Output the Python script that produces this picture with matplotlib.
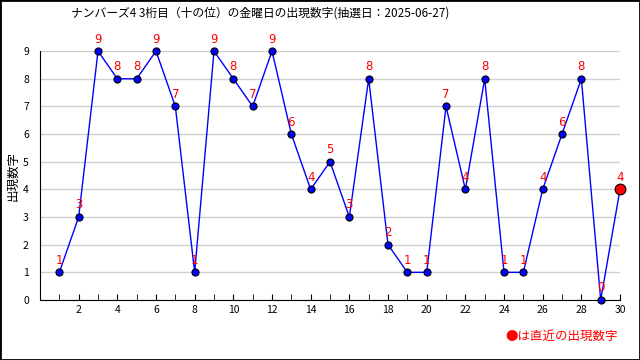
import matplotlib as M
M.use('agg')
import matplotlib.pyplot as plt
from matplotlib.patches import Rectangle

plt.rcParams['font.family'] = ['Noto Sans CJK JP', 'DejaVu Sans']

draws = list(range(1, 31))
digits = [1, 3, 9, 8, 8, 9, 7, 1, 9, 8, 7, 9, 6, 4, 5, 3, 8, 2, 1, 1,
          7, 4, 8, 1, 1, 4, 6, 8, 0, 4]
title = 'ナンバーズ4 3桁目（十の位）の金曜日の出現数字(抽選日：2025-06-27)'

fig = plt.figure(figsize=(6.4, 3.6), dpi=100)
ax = fig.add_axes([0.0625, 0.1667, 0.9063, 0.6913])

ax.set_xlim(0, 30)
ax.set_ylim(0, 9)
ax.plot(draws, digits, color='#0000ff', lw=1, zorder=3, clip_on=False)
ax.scatter(draws[:-1], digits[:-1], s=26, color='#0000ff', edgecolor='black',
           lw=0.8, zorder=4, clip_on=False)
ax.scatter(draws[-1:], digits[-1:], s=60, color='#ff0000', edgecolor='black',
           lw=0.8, zorder=5, clip_on=False)
for x, y in zip(draws, digits):
    ax.annotate(str(y), (x, y), xytext=(0, 4), textcoords='offset points',
                ha='center', va='bottom', color='red', fontsize=8.5,
                family='DejaVu Sans', zorder=6)

ax.set_yticks(range(0, 10))
ax.set_xticks(range(2, 31, 2))
ax.set_xticks(range(1, 31), minor=True)
ax.tick_params(axis='x', which='both', direction='in', length=4, labelsize=7.5)
ax.tick_params(axis='y', direction='out', length=0, labelsize=7.5, pad=8)
ax.grid(axis='y', color='#d0d0d0', lw=1)
ax.set_axisbelow(True)
for s in ('top', 'right'):
    ax.spines[s].set_visible(False)
ax.set_ylabel('出現数字', fontsize=9)
ax.yaxis.set_label_coords(-0.036, 0.5)

fig.text(0.406, 0.965, title, ha='center', va='center', fontsize=8.5)
fig.text(0.966, 0.065, '●は直近の出現数字', ha='right', va='center',
         color='red', fontsize=9)
fig.patches.append(Rectangle((0, 0), 1, 1, transform=fig.transFigure,
                             fill=False, edgecolor='black', lw=2))

fig.savefig('out.png', dpi=100)
plt.close(fig)
